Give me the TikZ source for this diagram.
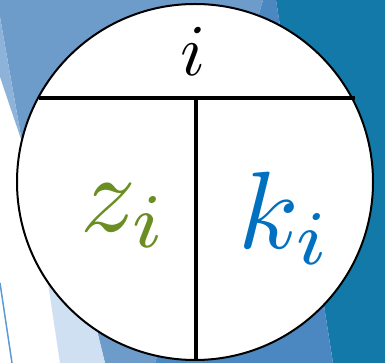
\documentclass[tikz,border=0pt]{standalone}
\usepackage{xcolor}
\usepackage{tikz}
\usetikzlibrary{positioning,calc}
\definecolor{SlideTeal}{HTML}{1279A8}
\definecolor{SlideBlue}{HTML}{4B87C1}
\definecolor{SlideMid}{HTML}{6D9CCB}
\definecolor{SlideLight}{HTML}{8EB3DA}
\definecolor{SlidePale}{HTML}{CEE0F2}
\definecolor{SlideLine}{HTML}{5B9BD5}
\definecolor{KeyGreen}{HTML}{6B8E23}
\definecolor{KeyBlue}{HTML}{0070C0}

\begin{document}
\begin{tikzpicture}[
  x=1pt, y=-1pt,
  cell/.style={circle,draw,line width=2pt,fill=white,inner sep=0pt,minimum size=356pt},
  divider/.style={line width=3.2pt},
  keytext/.style={inner sep=0pt,anchor=base west,scale=11}
]
  \useasboundingbox (0,0) rectangle (385,363);
  % slide background
  \fill[SlideTeal] (276,0) -- (385,0) -- (385,363) -- (333,363) -- cycle;
  \fill[SlideBlue] (263,0) -- (276,0) -- (333,363) -- (155,363) -- cycle;
  \fill[SlideMid] (0,0) -- (263,0) -- (155,363) -- (105,363) -- (64,200) -- (22,142) -- (0,17) -- cycle;
  \fill[SlideLight] (0,17) -- (22,142) -- (0,77) -- cycle;
  \fill[SlidePale] (40,230) -- (80,260) -- (105,363) -- (60,363) -- cycle;
  \draw[SlideLine,line width=1.5pt] (0,283) -- (12,363);

  \node[cell] (cell) at (195,182) {};
  \coordinate (west) at (39,98);
  \coordinate (east) at (355,98);
  \coordinate (split) at (196,98);

  \draw[divider] (west) -- (east);
  \draw[divider] (split) -- (split |- cell.south);

  \node[inner sep=0pt,anchor=base,scale=7.3] (index) at (193,76) {$i$};
  \node[keytext,text=KeyGreen] (zval) at (78,231) {$z_i$};
  \node[keytext,text=KeyBlue] (kval) at (236,248) {$k_i$};
\end{tikzpicture}
\end{document}
